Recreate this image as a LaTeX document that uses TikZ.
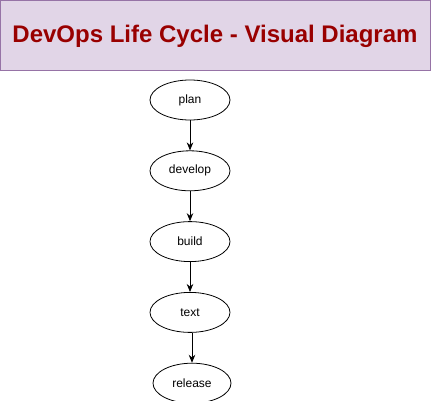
\documentclass[tikz,border=0pt]{standalone}
\usepackage{fontspec}
\setmainfont{Liberation Sans}
\usepackage{tikz}
\usetikzlibrary{positioning}
\usetikzlibrary{shapes.geometric}
\usetikzlibrary{arrows.meta}
\tikzset{>={Stealth[length=8pt,width=6.5pt]}}
\definecolor{titlefill}{HTML}{E1D5E7}
\definecolor{titleline}{HTML}{9673A6}
\definecolor{titletext}{HTML}{990000}

\begin{document}
\begin{tikzpicture}[x=1pt,y=-1pt,
		stage/.style={ellipse,draw,thick,minimum width=80pt,minimum height=40pt,inner sep=0pt,font=\fontsize{12}{14}\selectfont},
		node distance=30pt]
		\useasboundingbox (0,0) rectangle (431,401);
		\draw[titleline,fill=titlefill] (0.5,0.5) rectangle (430,70);
		\node[text=titletext,font=\fontsize{24}{28}\selectfont\bfseries] (title) at (215,36) {DevOps Life Cycle - Visual Diagram};
		\node[stage] (plan) at (190,100) {plan};
		\node[stage,below=of plan] (develop) {develop};
		\node[stage,below=of develop] (build) {build};
		\node[stage,below=of build] (text) {text};
		\node[stage,below=of text,xshift=2pt,minimum width=78pt] (release) {release};
		\begin{scope}[thick]
		  \draw[->] (plan)--(develop);
		  \draw[->] (develop)--(build);
		  \draw[->] (build)--(text);
		  \draw[->] (release.north |- text.south)--(release);
		\end{scope}
	\end{tikzpicture}
\end{document}
